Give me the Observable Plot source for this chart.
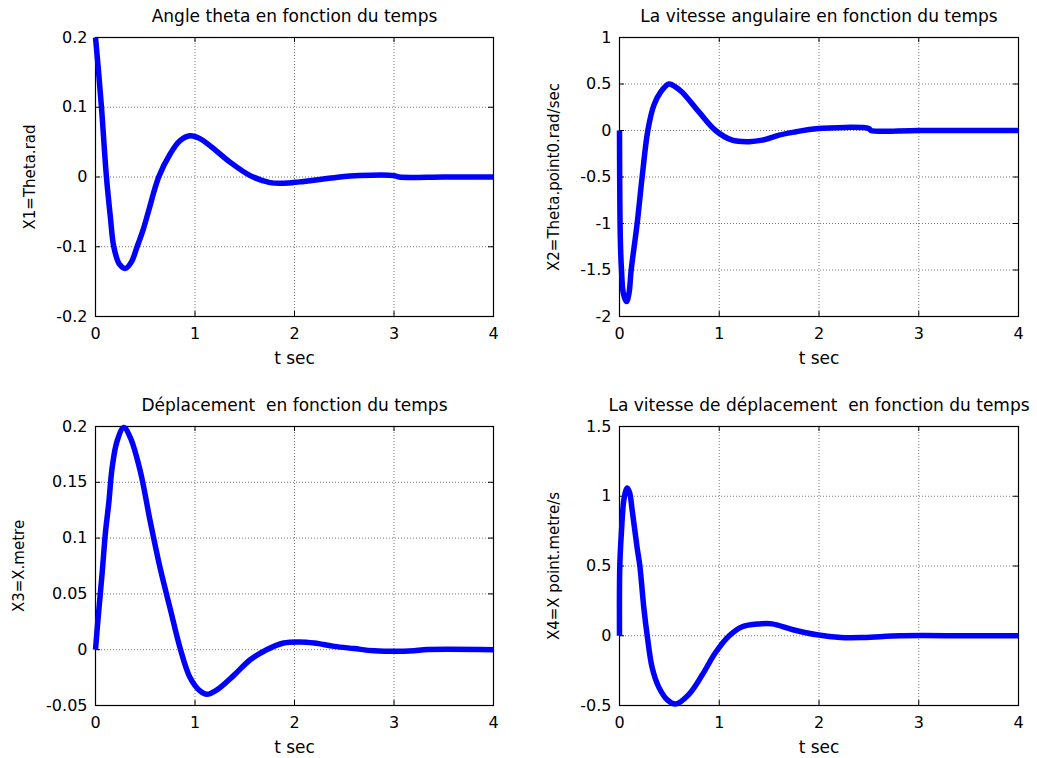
<!DOCTYPE html>
<html><head><meta charset="utf-8">
<script src="https://cdn.jsdelivr.net/npm/d3@7"></script>
<script src="https://cdn.jsdelivr.net/npm/@observablehq/plot@0.6"></script>
<style>
body{margin:0;background:#fff;}
#wrap{position:relative;width:1037px;height:758px;background:#fff;}
#wrap svg{position:absolute;}
</style>
</head><body><div id="wrap"></div>
<script>
// ---- data ----
const xTicks = [0, 1, 2, 3, 4];
const xLabel = "t sec";

const titles = [
  "Angle theta en fonction du temps",
  "La vitesse angulaire en fonction du temps",
  "Déplacement  en fonction du temps",
  "La vitesse de déplacement  en fonction du temps"
];
const yLabels = ["X1=Theta.rad", "X2=Theta.point0.rad/sec", "X3=X.metre", "X4=X point.metre/s"];

const yTicks1 = [-0.2, -0.1, 0, 0.1, 0.2];
const yTicks2 = [-2, -1.5, -1, -0.5, 0, 0.5, 1];
const yTicks3 = [-0.05, 0, 0.05, 0.1, 0.15, 0.2];
const yTicks4 = [-0.5, 0, 0.5, 1, 1.5];

// X1 theta (rad)
const t1 = [0, 0.03, 0.06, 0.11, 0.15, 0.184, 0.24, 0.3, 0.36, 0.418, 0.48, 0.535, 0.635, 0.75, 0.85, 0.95, 1.05, 1.15, 1.355, 1.555, 1.755, 1.89, 2.05, 2.4, 2.65, 3.0, 3.05, 3.5, 4.0];
const x1 = [0.2, 0.152, 0.1, 0, -0.058, -0.1, -0.125, -0.131, -0.122, -0.1, -0.075, -0.048, 0, 0.033, 0.052, 0.059, 0.055, 0.045, 0.021, 0.002, -0.008, -0.009, -0.007, -0.001, 0.002, 0.002, 0, 0, 0];

// X2 theta point (rad/sec)
const t2 = [0, 0.008, 0.02, 0.04, 0.07, 0.095, 0.117, 0.177, 0.227, 0.284, 0.344, 0.41, 0.495, 0.56, 0.63, 0.796, 0.963, 1.13, 1.3, 1.43, 1.6, 1.77, 1.97, 2.5, 2.52, 3.0, 4.0];
const x2 = [0, -1.15, -1.5, -1.76, -1.84, -1.75, -1.5, -1.0, -0.5, 0, 0.27, 0.41, 0.5, 0.47, 0.41, 0.2, 0, -0.104, -0.12, -0.104, -0.05, -0.014, 0.02, 0.02, 0, 0, 0];

// X3 displacement (m)
const t3 = [0, 0.023, 0.067, 0.1, 0.134, 0.167, 0.217, 0.284, 0.35, 0.45, 0.55, 0.65, 0.75, 0.85, 0.95, 1.05, 1.12, 1.22, 1.39, 1.555, 1.72, 1.89, 2.05, 2.2, 2.4, 2.6, 2.8, 3.2, 3.3, 4.0];
const x3 = [0, 0.025, 0.069, 0.105, 0.132, 0.163, 0.187, 0.199, 0.19, 0.16, 0.115, 0.073, 0.037, 0.0015, -0.025, -0.037, -0.04, -0.036, -0.023, -0.009, 0, 0.006, 0.007, 0.006, 0.003, 0.001, -0.001, -0.001, 0, 0];

// X4 displacement speed (m/s)
const t4 = [0, 0.003, 0.02, 0.045, 0.077, 0.1, 0.127, 0.177, 0.204, 0.244, 0.278, 0.328, 0.395, 0.48, 0.562, 0.696, 0.83, 0.963, 1.1, 1.23, 1.4, 1.53, 1.73, 1.98, 2.22, 2.45, 2.82, 3.5, 4.0];
const x4 = [0, 0.5, 0.75, 0.98, 1.06, 1.03, 0.9, 0.63, 0.5, 0.2, 0, -0.23, -0.37, -0.46, -0.49, -0.42, -0.28, -0.12, 0, 0.065, 0.085, 0.085, 0.045, 0.007, -0.012, -0.012, 0, 0, 0];

// ---- drawing ----
const wrap = document.getElementById("wrap");

function panel({t, v, yTicks, title, ylabel, left, top, width, height, ml, mr, mt, mb, ylabDx}) {
  const data = t.map((d, i) => ({t: d, v: v[i]}));
  const H = height - mt - mb, W = width - ml - mr;
  const svg = Plot.plot({
    width, height,
    marginLeft: ml, marginRight: mr, marginTop: mt, marginBottom: mb,
    style: {fontFamily: "'DejaVu Sans', sans-serif", fontSize: "16px", background: "white", overflow: "visible", color: "black"},
    x: {domain: [xTicks[0], xTicks[xTicks.length - 1]], ticks: xTicks, label: null},
    y: {domain: [yTicks[0], yTicks[yTicks.length - 1]], ticks: yTicks, label: null},
    marks: [
      Plot.gridX(xTicks, {stroke: "#777", strokeOpacity: 1, strokeDasharray: "1,2"}),
      Plot.gridY(yTicks, {stroke: "#777", strokeOpacity: 1, strokeDasharray: "1,2"}),
      Plot.tickX(xTicks, {x: d => d, stroke: "black", insetTop: H - 5}),
      Plot.tickX(xTicks, {x: d => d, stroke: "black", insetBottom: H - 5}),
      Plot.tickY(yTicks, {y: d => d, stroke: "black", insetRight: W - 5}),
      Plot.tickY(yTicks, {y: d => d, stroke: "black", insetLeft: W - 5}),
      Plot.axisX(xTicks, {tickSize: 0, tickPadding: 11, tickFormat: d => String(d), fill: "black"}),
      Plot.axisY(yTicks, {tickSize: 0, tickPadding: 8, tickFormat: d => String(d), fill: "black"}),
      Plot.frame({stroke: "black", strokeWidth: 1.2}),
      Plot.line(data, {x: "t", y: "v", stroke: "#0000ff", strokeWidth: 5.5, curve: "catmull-rom", strokeLinejoin: "round", strokeLinecap: "butt"}),
      Plot.text([title], {frameAnchor: "top", dy: -21, textAnchor: "middle", lineAnchor: "middle", fill: "black", fontSize: 17}),
      Plot.text([xLabel], {frameAnchor: "bottom", dy: 42, textAnchor: "middle", lineAnchor: "middle", fill: "black", fontSize: 17}),
      Plot.text([ylabel], {frameAnchor: "left", dx: ylabDx, rotate: -90, textAnchor: "middle", lineAnchor: "middle", fill: "black", fontSize: 15})
    ]
  });
  svg.style.left = left + "px";
  svg.style.top = top + "px";
  wrap.append(svg);
}

panel({t: t1, v: x1, yTicks: yTicks1, title: titles[0], ylabel: yLabels[0], left: 0, top: 0, width: 518, height: 380, ml: 95, mr: 25, mt: 37, mb: 64, ylabDx: -65});
panel({t: t2, v: x2, yTicks: yTicks2, title: titles[1], ylabel: yLabels[1], left: 518, top: 0, width: 519, height: 380, ml: 101, mr: 19, mt: 37, mb: 64, ylabDx: -65});
panel({t: t3, v: x3, yTicks: yTicks3, title: titles[2], ylabel: yLabels[2], left: 0, top: 380, width: 518, height: 378, ml: 95, mr: 25, mt: 46, mb: 53, ylabDx: -76});
panel({t: t4, v: x4, yTicks: yTicks4, title: titles[3], ylabel: yLabels[3], left: 518, top: 380, width: 519, height: 378, ml: 101, mr: 19, mt: 46, mb: 53, ylabDx: -65});
</script>
</body></html>
